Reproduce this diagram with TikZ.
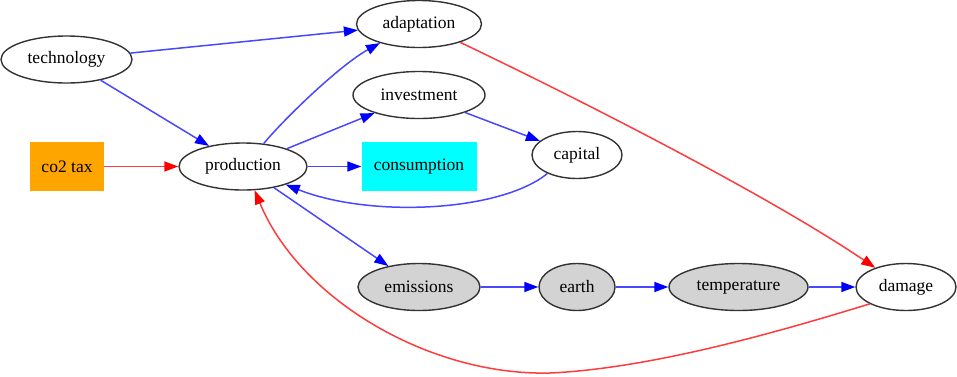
\documentclass[tikz,border=0pt]{standalone}
\usepackage{fontspec}
\setmainfont{Liberation Serif}
\usetikzlibrary{arrows.meta,shapes.geometric}
\definecolor{gvorange}{RGB}{255,165,0}
\definecolor{gvcyan}{RGB}{0,255,255}
\definecolor{gvgray}{RGB}{211,211,211}
\definecolor{edgeblue}{RGB}{72,72,255}
\definecolor{edgered}{RGB}{255,60,60}
\begin{document}
\begin{tikzpicture}[x=1pt,y=-1pt,
  every node/.style={font=\fontsize{17.5}{20}\selectfont, inner sep=0pt},
  ell/.style={ellipse, draw=black!80, line width=1.4pt, minimum height=47pt},
  grayell/.style={ell, fill=gvgray},
  boxnode/.style={rectangle, minimum height=49pt},
  bl/.style={draw=edgeblue, line width=1.5pt, -{Triangle[length=14pt,width=10pt,color=blue]}},
  rd/.style={draw=edgered, line width=1.5pt, -{Triangle[length=14pt,width=10pt,color=red]}}]
\useasboundingbox (0,0) rectangle (957,376);
\node[ell, minimum width=131pt] (technology) at (66.5,59.5) {technology};
\node[boxnode, fill=gvorange, minimum width=74pt] (co2) at (67,166.5) {co2 tax};
\node[ell, minimum width=128pt] (production) at (243,166.5) {production};
\node[ell, minimum width=125pt] (adaptation) at (419,24) {adaptation};
\node[ell, minimum width=132pt] (investment) at (419,95) {investment};
\node[boxnode, fill=gvcyan, minimum width=115pt] (consumption) at (419,166.5) {consumption};
\node[ell, minimum width=90pt] (capital) at (577,155) {capital};
\node[grayell, minimum width=122pt] (emissions) at (419,287) {emissions};
\node[grayell, minimum width=76pt] (earth) at (577,287) {earth};
\node[grayell, minimum width=139pt] (temperature) at (738.5,287) {temperature};
\node[ell, minimum width=100pt] (damage) at (906,287) {damage};

\draw[bl] (technology) -- (adaptation);
\draw[bl] (technology) -- (production);
\draw[rd] (co2) -- (production);
\draw[bl] (production.48) .. controls (285,118) and (340,65) .. (adaptation.206);
\draw[bl] (production) -- (investment);
\draw[bl] (production) -- (consumption);
\draw[bl] (production) -- (emissions);
\draw[bl] (investment) -- (capital);
\draw[bl] (capital.212) .. controls (500,212) and (370,218) .. (production.-23);
\draw[rd] (adaptation.-24) .. controls (560,90) and (760,190) .. (damage.148.5);
\draw[bl] (emissions) -- (earth);
\draw[bl] (earth) -- (temperature);
\draw[bl] (temperature) -- (damage);
\draw[rd] (damage.-155) .. controls (800,325) and (660,368) .. (550,373)
  .. controls (430,376) and (300,300) .. (production.-64);
\end{tikzpicture}
\end{document}
